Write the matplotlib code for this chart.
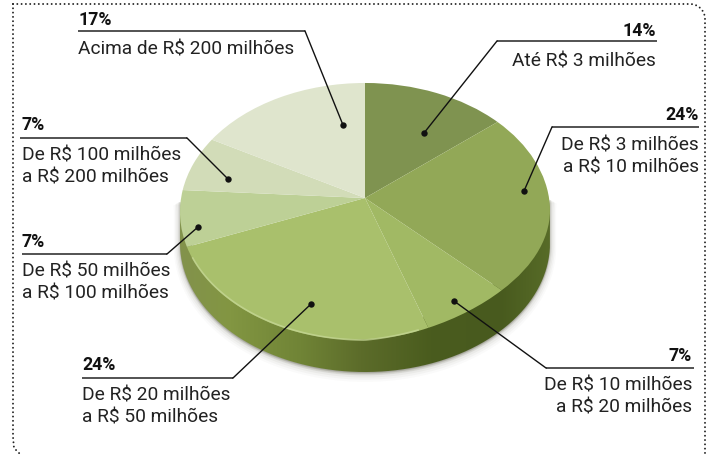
"""Pie chart of revenue bands, drawn with a tilted 3D look."""

import matplotlib
matplotlib.use("Agg")
import matplotlib.pyplot as plt
import numpy as np
from matplotlib.patches import PathPatch
from matplotlib.path import Path
from matplotlib.transforms import Transform

shares = [14, 24, 7, 24, 7, 7, 17]
pct_labels = ["14%", "24%", "7%", "24%", "7%", "7%", "17%"]
band_labels = [
    "Até R$ 3 milhões",
    "De R$ 3 milhões\na R$ 10 milhões",
    "De R$ 10 milhões\na R$ 20 milhões",
    "De R$ 20 milhões\na R$ 50 milhões",
    "De R$ 50 milhões\na R$ 100 milhões",
    "De R$ 100 milhões\na R$ 200 milhões",
    "Acima de R$ 200 milhões",
]
slice_colors = ["#7f9350", "#92a857", "#a1b964", "#a9c06c", "#bdd096", "#d2dcb8", "#dfe5cd"]

# x/y of the text anchor, rule ends, and the dot, all in image pixels
callouts = [
    dict(ha="right", tx=656, pct_y=36, lab_y=[66], rule=(497, 657, 41), dot=(424, 133)),
    dict(ha="right", tx=699, pct_y=120, lab_y=[151, 172], rule=(552, 699, 127), dot=(524, 191)),
    dict(ha="right", tx=692, pct_y=361, lab_y=[391, 413], rule=(546, 694, 368), dot=(454, 301)),
    dict(ha="left", tx=82, pct_y=370, lab_y=[400, 423], rule=(82, 233, 378), dot=(311, 304)),
    dict(ha="left", tx=22, pct_y=247, lab_y=[276, 298], rule=(22, 167, 254), dot=(198, 227)),
    dict(ha="left", tx=22, pct_y=130, lab_y=[160, 183], rule=(20, 187, 138), dot=(228, 179)),
    dict(ha="left", tx=78, pct_y=25, lab_y=[55], rule=(78, 305, 31), dot=(343, 125)),
]

W, H = 713, 455
CX, CY = 365, 198  # where the slices meet
DEPTH = 31
TILT = 0.1085
SCALE_X, SCALE_Y = 183.9, 127.5
FLATTEN = 0.00063  # the lower right of the top face is a bit flatter than an ellipse


def project(x, y, flatten=FLATTEN):
    """Unit pie to pixels relative to the slice centre, y up."""
    w = 1 + TILT * y
    px_x = SCALE_X * x / w
    px_y = SCALE_Y * y / w
    px_y = px_y + flatten * np.clip(px_x, 0, None) * np.clip(-px_y, 0, None)
    return px_x, px_y


class Tilt(Transform):
    input_dims = output_dims = 2

    def transform_non_affine(self, values):
        values = np.asarray(values)
        return np.c_[project(values[:, 0], values[:, 1])]


plt.rcParams["font.family"] = ["Roboto", "DejaVu Sans"]
fig = plt.figure(figsize=(W / 100, H / 100), dpi=100)

# outline of the near half of the top face, left to right in pixels
t = np.linspace(np.pi + 0.12, 2 * np.pi - 0.12, 240)
edge_x, edge_y = project(np.cos(t), np.sin(t))
edge_x = CX + edge_x
edge_y = CY - edge_y
outer_x, outer_y = project(np.cos(t), np.sin(t), flatten=0)
outer_x = CX + outer_x
outer_y = CY - outer_y + DEPTH

# rim of the disc goes underneath
rim_ax = fig.add_axes([0, 0, 1, 1], zorder=1)
rim_x = np.r_[edge_x, outer_x[::-1]]
rim_y = np.r_[edge_y - 12, outer_y[::-1]]

for grow, alpha in [(9, 0.025), (7, 0.035), (5, 0.05), (3, 0.08), (1.5, 0.12)]:
    rim_ax.fill(rim_x, rim_y + grow * 0.4, color="#4a4a30", alpha=alpha, lw=grow)

stops_x = np.array([181, 230, 300, 360, 430, 500, 551])
stops_c = np.array([[130, 146, 76], [130, 150, 66], [112, 132, 54], [92, 108, 42],
                    [74, 92, 30], [72, 90, 30], [88, 108, 40]], float)
grad = np.zeros((H, W, 3))
for c in range(3):
    grad[:, :, c] = np.interp(np.arange(W), stops_x, stops_c[:, c])
im = rim_ax.imshow(grad / 255, extent=(0, W, H, 0), aspect="auto", zorder=2)
im.set_clip_path(PathPatch(Path(np.c_[rim_x, rim_y]), transform=rim_ax.transData))
rim_ax.set_xlim(0, W)
rim_ax.set_ylim(H, 0)
rim_ax.axis("off")

# top face
pie_ax = fig.add_axes([0, 0, 1, 1], zorder=2)
wedges, _ = pie_ax.pie(shares, colors=slice_colors, startangle=90, counterclock=False,
                       wedgeprops=dict(linewidth=0))
pie_ax.set_aspect("auto")
pie_ax.set_xlim(-CX, W - CX)
pie_ax.set_ylim(-(H - CY), CY)
for w in wedges:
    w.set_transform(Tilt() + pie_ax.transData)
pie_ax.axis("off")

# leaders and text on top
px = fig.add_axes([0, 0, 1, 1], zorder=3)
px.patch.set_alpha(0)
px.set_xlim(0, W)
px.set_ylim(H, 0)
px.axis("off")

# light lip where the top face meets the rim
lip = (edge_x > 192) & (edge_x < 420)
px.plot(edge_x[lip], edge_y[lip] - 1, color="#c6d796", lw=1.2, alpha=0.75)

# dotted frame
dots = dict(ls=(0, (0.01, 2.2)), lw=1.4, color="#222222", dash_capstyle="round")
px.plot([13, 13, 14, 20], [4, 437, 448, 454], **dots)
a = np.linspace(0, np.pi / 2, 12)
px.plot(np.r_[13, 690 + 15 * np.sin(a), 705], np.r_[4, 19 - 15 * np.cos(a), 455], **dots)

for pct, lab, c in zip(pct_labels, band_labels, callouts):
    x0, x1, ry = c["rule"]
    dx, dy = c["dot"]
    knee = x0 if c["ha"] == "right" else x1
    px.plot([x0, x1], [ry, ry], color="#444444", lw=1.3, solid_capstyle="butt")
    px.plot([knee, dx], [ry, dy], color="#111111", lw=1.0)
    px.plot([dx], [dy], "o", ms=4.6, color="#111111", mew=0)
    px.text(c["tx"], c["pct_y"], pct, ha=c["ha"], va="baseline", fontsize=12.8,
            fontweight="bold", color="#111111")
    for line, ly in zip(lab.split("\n"), c["lab_y"]):
        px.text(c["tx"], ly, line, ha=c["ha"], va="baseline", fontsize=13.8,
                color="#222222")

fig.savefig("out.png", dpi=100, facecolor="white")
